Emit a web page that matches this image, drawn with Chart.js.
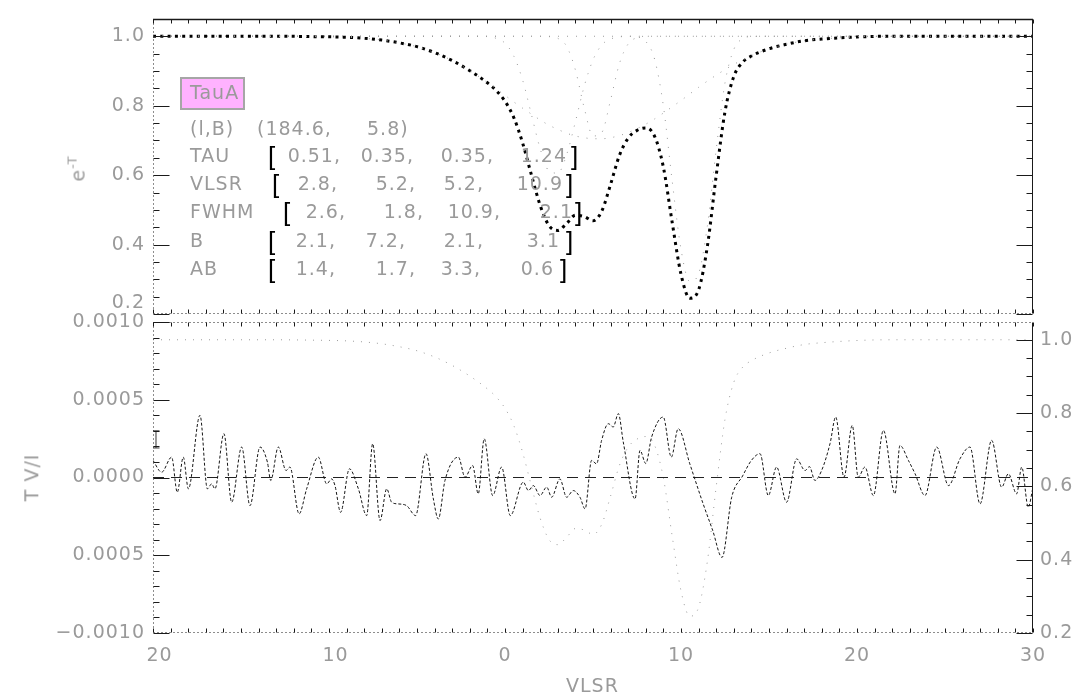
<!DOCTYPE html>
<html>
<head>
<meta charset="utf-8">
<script src="https://cdn.jsdelivr.net/npm/chart.js@4.4.1/dist/chart.umd.min.js"></script>
<style>
  body { margin: 0; background: #fff; }
  #wrap { position: relative; width: 1075px; height: 695px; overflow: hidden; background: #fff;
          font-family: "DejaVu Sans", sans-serif; color: #9a9a9a; }
  canvas { position: absolute; left: 0; }
  #topChart { top: 0; }
  #botChart { top: 300px; }
  .t { position: absolute; font-size: 19px; line-height: 19px; letter-spacing: 1px; white-space: pre; }
  .br { position: absolute; font-family: "Liberation Sans", sans-serif; font-size: 26px; line-height: 26px;
        color: #000; white-space: pre; }
  #srcBox { position: absolute; left: 180px; top: 77px; width: 61px; height: 29px;
            background: #ffb2ff; border: 2px solid #a6a6a6; }
  .rot { position: absolute; transform: rotate(-90deg); transform-origin: center center; white-space: pre;
         font-size: 19px; line-height: 19px; letter-spacing: 1px; }
  .rot sup { font-size: 13px; vertical-align: 8px; }
</style>
</head>
<body>
<div id="wrap">
  <canvas id="topChart" width="1075" height="345"></canvas>
  <canvas id="botChart" width="1075" height="395"></canvas>
  <div id="srcBox"></div>
  <div id="notes"></div>
  <div class="t" style="left:566px; top:676px;">VLSR</div>
  <div class="rot" style="left:62px; top:156px;">e<sup>-T</sup></div>
  <div class="rot" style="left:8px; top:468px;">T V/I</div>
</div>
<script>
// velocity grid (km/s) for the optical depth model curves
const velocity = [-20, -16, -13, -11, -9, -8, -7, -6, -5, -4, -3, -2, -1, -0.5, 0,
  0.5, 1, 1.5, 2, 2.5, 3, 3.5, 4, 4.5, 5, 5.5, 6, 6.5, 7, 7.5, 8, 8.5, 9, 9.5, 10,
  10.5, 11, 11.5, 12, 12.5, 13, 13.5, 14, 15, 16, 17, 18, 20, 22, 26, 30];

// total transmission exp(-tau)
const transTotal = [1.000, 1.000, 1.000, 0.999, 0.997, 0.994, 0.989, 0.981, 0.970, 0.953,
  0.930, 0.901, 0.866, 0.844, 0.813, 0.766, 0.693, 0.601, 0.513, 0.455,
  0.441, 0.461, 0.485, 0.481, 0.469, 0.497, 0.574, 0.657, 0.707, 0.729,
  0.736, 0.712, 0.623, 0.464, 0.315, 0.246, 0.270, 0.396, 0.599, 0.783,
  0.884, 0.925, 0.943, 0.964, 0.977, 0.987, 0.992, 0.998, 1.000, 1.000, 1.000];

// single components
const transComp1 = [1, 1, 1, 1, 1, 1, 1, 1, 1, 1,
  1, 1, 0.999, 0.994, 0.980, 0.943, 0.874, 0.775, 0.676, 0.612,
  0.606, 0.659, 0.754, 0.856, 0.932, 0.975, 0.992, 0.998, 1, 1,
  1, 1, 1, 1, 1, 1, 1, 1, 1, 1, 1, 1, 1, 1, 1, 1, 1, 1, 1, 1, 1];
const transComp2 = [1, 1, 1, 1, 1, 1, 1, 1, 1, 1,
  1, 1, 1, 1, 1, 1, 1, 1, 1, 0.999,
  0.994, 0.971, 0.903, 0.794, 0.713, 0.723, 0.817, 0.921, 0.978, 0.996,
  1, 1, 1, 1, 1, 1, 1, 1, 1, 1, 1, 1, 1, 1, 1, 1, 1, 1, 1, 1, 1];
const transComp3 = [1.000, 1.000, 1.000, 0.999, 0.997, 0.994, 0.989, 0.981, 0.970, 0.953,
  0.930, 0.901, 0.867, 0.849, 0.830, 0.811, 0.793, 0.776, 0.759, 0.744,
  0.732, 0.721, 0.713, 0.708, 0.705, 0.705, 0.708, 0.714, 0.723, 0.734,
  0.747, 0.762, 0.779, 0.797, 0.815, 0.834, 0.853, 0.871, 0.888, 0.904,
  0.919, 0.932, 0.944, 0.964, 0.977, 0.987, 0.992, 0.998, 1.000, 1.000, 1.000];
const transComp4 = [1, 1, 1, 1, 1, 1, 1, 1, 1, 1,
  1, 1, 1, 1, 1, 1, 1, 1, 1, 1,
  1, 1, 1, 1, 1, 1, 1, 1, 1, 0.998,
  0.985, 0.934, 0.799, 0.583, 0.387, 0.294, 0.317, 0.455, 0.674, 0.866,
  0.962, 0.993, 0.999, 1, 1, 1, 1, 1, 1, 1, 1];

// Stokes V spectrum
const stokesVel = [-20.0, -19.51, -18.94, -18.62, -18.28, -17.99, -17.33, -16.91, -16.67, -16.48,
  -15.97, -15.53, -14.96, -14.49, -13.92, -13.50, -13.31, -12.88, -12.44, -12.22,
  -11.70, -11.27, -10.61, -10.13, -9.85, -9.66, -9.34, -8.84, -8.33, -7.86,
  -7.52, -7.10, -6.72, -6.44, -6.06, -5.59, -5.08, -4.49, -4.07, -3.79,
  -3.41, -2.65, -2.27, -1.84, -1.52, -1.18, -0.70, -0.19, 0.30, 1.04,
  1.33, 1.61, 1.99, 2.37, 2.65, 3.12, 3.50, 3.88, 4.26, 4.55,
  4.92, 5.20, 5.49, 5.87, 6.15, 6.44, 6.72, 7.39, 7.67, 8.00,
  8.33, 8.99, 9.45, 9.84, 10.50, 11.26, 11.80, 12.33, 12.88, 13.50,
  14.00, 14.49, 14.96, 15.43, 16.00, 16.57, 17.05, 17.30, 17.61, 17.99,
  18.47, 18.79, 19.26, 19.73, 20.07, 20.45, 20.93, 21.50, 22.16, 22.44,
  22.92, 23.30, 23.86, 24.53, 25.20, 25.85, 26.42, 26.99, 27.65, 28.22,
  28.60, 29.07, 29.36, 29.73, 30.00];
const stokesV = [1.10e-4, 0.34e-4, 1.31e-4, -0.95e-4, 1.31e-4, -0.73e-4, 4.00e-4, -0.73e-4, -0.41e-4, -0.73e-4,
  2.82e-4, -1.59e-4, 1.96e-4, -1.81e-4, 1.96e-4, 0.99e-4, -0.19e-4, 1.96e-4, 0.45e-4, 0.67e-4,
  -2.34e-4, -0.73e-4, 1.31e-4, -0.41e-4, -0.09e-4, -0.52e-4, -2.24e-4, 0.56e-4, -0.73e-4, -2.45e-4,
  2.17e-4, -2.77e-4, -0.73e-4, -1.59e-4, -1.70e-4, -1.81e-4, -2.45e-4, 1.53e-4, -1.38e-4, -2.67e-4,
  -0.19e-4, 1.31e-4, 0.02e-4, 0.77e-4, -1.05e-4, 2.49e-4, -1.16e-4, 0.67e-4, -2.45e-4, -0.30e-4,
  -0.84e-4, -0.52e-4, -1.16e-4, -0.62e-4, -1.27e-4, -0.09e-4, -1.27e-4, -0.84e-4, -1.27e-4, -2.02e-4,
  1.10e-4, 0.88e-4, 2.39e-4, 3.46e-4, 3.25e-4, 4.11e-4, 2.28e-4, -1.38e-4, 1.74e-4, 0.90e-4,
  2.60e-4, 3.89e-4, 1.31e-4, 3.14e-4, 0.88e-4, -1.70e-4, -3.40e-4, -5.14e-4, -1.27e-4, 0.10e-4,
  1.10e-4, 1.53e-4, -1.16e-4, 0.67e-4, -1.59e-4, 1.20e-4, 0.45e-4, 0.70e-4, -0.19e-4, 0.45e-4,
  2.19e-4, 3.89e-4, 0.02e-4, 3.35e-4, 0.02e-4, 0.67e-4, -1.16e-4, 3.03e-4, -1.05e-4, 2.06e-4,
  1.10e-4, 0.24e-4, -1.16e-4, 1.96e-4, -0.52e-4, 1.20e-4, 1.96e-4, -1.70e-4, 2.39e-4, -0.62e-4,
  0.24e-4, -1.05e-4, 0.67e-4, -1.91e-4, -0.62e-4];

// zero level and the noise bar in the corner
const zeroVel = [-20, 30];
const zeroV = [0, 0];
const noiseVel = [-19.83, -19.83];
const noiseV = [0.00019, 0.00030];

// axes
const xTickVals = [-20, -10, 0, 10, 20, 30];
const xTickLabels = ['20', '10', '0', '10', '20', '30'];
const topTickVals = [0.2, 0.4, 0.6, 0.8, 1.0];
const topTickLabels = ['0.2', '0.4', '0.6', '0.8', '1.0'];
const vTickVals = [-0.0010, -0.0005, 0.0, 0.0005, 0.0010];
const vTickLabels = ['\u22120.0010', '0.0005', '0.0000', '0.0005', '0.0010'];
const rightTickVals = [0.2, 0.4, 0.6, 0.8, 1.0];
const rightTickLabels = ['0.2', '0.4', '0.6', '0.8', '1.0'];

// Gaussian fit results printed in the corner
const sourceName = 'TauA';
const sourceCoords = ['(184.6,', '5.8)'];
const fitNames = ['TAU', 'VLSR', 'FWHM', 'B', 'AB'];
const fitTau = [0.51, 0.35, 0.35, 1.24];
const fitVlsr = [2.8, 5.2, 5.2, 10.9];
const fitFwhm = [2.6, 1.8, 10.9, 2.1];
const fitB = [2.1, 7.2, 2.1, 3.1];
const fitDB = [1.4, 1.7, 3.3, 0.6];

const pts = (xs, ys) => xs.map((x, i) => ({ x: x, y: ys[i] }));
const tickFont = { family: 'DejaVu Sans', size: 19 };
const textGray = '#9a9a9a';

// IDL style frame: dotted left/bottom axes, ticks pointing inward
const idlAxes = {
  id: 'idlAxes',
  beforeDraw(chart) { chart.ctx.letterSpacing = '1px'; },
  afterDatasetsDraw(chart, args, o) {
    const ctx = chart.ctx, a = chart.chartArea;
    const xs = chart.scales.x, yl = chart.scales.y, yr = chart.scales[o.rightId];
    const L = Math.round(a.left) + 0.5, R = Math.round(a.right) - 0.5;
    const T = Math.round(a.top) + 0.5, B = Math.round(a.bottom) - 0.5;
    const seg = (x1, y1, x2, y2) => { ctx.beginPath(); ctx.moveTo(x1, y1); ctx.lineTo(x2, y2); ctx.stroke(); };
    ctx.save();
    ctx.strokeStyle = '#1a1a1a';
    ctx.lineWidth = 1;
    ctx.setLineDash([1, 3]);
    seg(L, T, L, B);
    seg(L, B, R, B);
    if (!o.solidTop) seg(L, T, R, T);
    ctx.setLineDash([]);
    if (o.solidTop) { ctx.lineWidth = 1.6; seg(L - 0.5, T, R + 0.5, T); ctx.lineWidth = 1; }
    seg(R, T, R, B);
    for (let k = Math.ceil(xs.min); k <= xs.max; k++) {
      const px = Math.round(xs.getPixelForValue(k)) + 0.5;
      seg(px, B, px, B - 4);
      seg(px, T, px, T + 4);
    }
    const yTicks = (scale, step, majors, x, dir) => {
      const n0 = Math.ceil(scale.min / step - 1e-6), n1 = Math.floor(scale.max / step + 1e-6);
      for (let k = n0; k <= n1; k++) {
        const v = k * step;
        const major = majors.some(m => Math.abs(m - v) < step / 10);
        const py = Math.round(scale.getPixelForValue(v)) + 0.5;
        seg(x, py, x + dir * (major ? 16 : 6), py);
      }
    };
    yTicks(yl, o.leftStep, o.leftMajors, L, 1);
    yTicks(yr, o.rightStep, o.rightMajors, R, -1);
    ctx.restore();
  }
};

function fixedTicks(vals) {
  return scale => { scale.ticks = vals.map(v => ({ value: v })); };
}

const thinDots = { borderColor: '#9a9a9a', borderWidth: 1, borderDash: [1, 8], pointRadius: 0,
                   cubicInterpolationMode: 'monotone', fill: false };

new Chart(document.getElementById('topChart'), {
  type: 'line',
  data: {
    datasets: [
      Object.assign({ data: pts(velocity, transComp1) }, thinDots),
      Object.assign({ data: pts(velocity, transComp2) }, thinDots),
      Object.assign({ data: pts(velocity, transComp3) }, thinDots),
      Object.assign({ data: pts(velocity, transComp4) }, thinDots),
      { data: pts(velocity, transTotal), borderColor: '#000', borderWidth: 3, borderDash: [3, 4.3],
        pointRadius: 0, cubicInterpolationMode: 'monotone', fill: false }
    ]
  },
  options: {
    responsive: false, animation: false, devicePixelRatio: 1,
    layout: { padding: { top: 7, bottom: 23, left: 0, right: 42 } },
    plugins: { legend: { display: false }, tooltip: { enabled: false },
      idlAxes: { rightId: 'y', solidTop: true, leftStep: 0.05, leftMajors: topTickVals,
                 rightStep: 0.05, rightMajors: topTickVals } },
    scales: {
      x: { type: 'linear', min: -20, max: 30, display: false },
      y: { min: 0.2, max: 1.0485,
        afterFit: s => { s.width = 153; },
        afterBuildTicks: fixedTicks(topTickVals),
        grid: { display: false, drawTicks: false }, border: { display: false },
        // the lowest label sits a little above its tick, clear of the panel below
        ticks: { padding: 8, color: textGray, font: tickFont,
                 callback: (v, i) => (i === 0 ? [topTickLabels[i], ''] : topTickLabels[i]) } }
    }
  },
  plugins: [idlAxes]
});

new Chart(document.getElementById('botChart'), {
  type: 'line',
  data: {
    datasets: [
      { data: pts(stokesVel, stokesV), yAxisID: 'y', borderColor: '#151515', borderWidth: 1,
        borderDash: [3, 2], pointRadius: 0, cubicInterpolationMode: 'monotone', fill: false },
      { data: pts(zeroVel, zeroV), yAxisID: 'y', borderColor: '#222', borderWidth: 1,
        borderDash: [11, 7], pointRadius: 0, fill: false },
      { data: pts(noiseVel, noiseV), yAxisID: 'y', borderColor: '#333', borderWidth: 1,
        pointStyle: 'line', pointRadius: 3.5, pointBorderWidth: 1, fill: false },
      Object.assign({ data: pts(velocity, transTotal), yAxisID: 'y2' }, thinDots, { borderDash: [1, 7] })
    ]
  },
  options: {
    responsive: false, animation: false, devicePixelRatio: 1,
    layout: { padding: { top: 22, bottom: 0, left: 0, right: 0 } },
    plugins: { legend: { display: false }, tooltip: { enabled: false },
      idlAxes: { rightId: 'y2', solidTop: false, leftStep: 0.0001, leftMajors: vTickVals,
                 rightStep: 0.05, rightMajors: rightTickVals } },
    scales: {
      x: { type: 'linear', min: -20, max: 30,
        afterFit: s => { s.height = 62; },
        afterBuildTicks: fixedTicks(xTickVals),
        grid: { display: false, drawTicks: false }, border: { display: false },
        ticks: { padding: 12, maxRotation: 0, autoSkip: false, color: textGray, font: tickFont,
                 callback: (v, i) => (xTickVals[i] < 0 ? '\u2007' : '') + xTickLabels[i] } },
      y: { position: 'left', min: -0.0010, max: 0.0010,
        afterFit: s => { s.width = 153; },
        afterBuildTicks: fixedTicks(vTickVals),
        grid: { display: false, drawTicks: false }, border: { display: false },
        ticks: { padding: 8, color: textGray, font: tickFont, callback: (v, i) => vTickLabels[i] } },
      y2: { position: 'right', min: 0.2, max: 1.0485,
        afterFit: s => { s.width = 42; },
        afterBuildTicks: fixedTicks(rightTickVals),
        grid: { display: false, drawTicks: false }, border: { display: false },
        ticks: { padding: 7, color: textGray, font: tickFont, callback: (v, i) => rightTickLabels[i] } }
    }
  },
  plugins: [idlAxes]
});

// fit summary block
const notes = document.getElementById('notes');
function put(cls, text, left, top, right) {
  const d = document.createElement('div');
  d.className = cls;
  d.textContent = text;
  if (right !== undefined) d.style.right = (1075 - right) + 'px'; else d.style.left = left + 'px';
  d.style.top = top + 'px';
  notes.appendChild(d);
}
put('t', sourceName, 190, 83);
put('t', '(l,B)', 190, 119);
put('t', sourceCoords[0], 257, 119);
put('t', sourceCoords[1], 367, 119);

const fitRows = [fitTau, fitVlsr, fitFwhm, fitB, fitDB];
const rowMid = [155, 183, 211, 240, 268];
const leftBr = [268, 272, 283, 268, 268];
const rightBr = [571, 566, 575, 566, 560];
const colRight = [[341, 414, 494, 567], [338, 416, 484, 563], [346, 424, 501, 573],
                  [336, 406, 484, 560], [336, 416, 481, 554]];
fitRows.forEach((vals, r) => {
  const top = rowMid[r] - 9;
  put('t', fitNames[r], 190, top);
  put('br', '[', leftBr[r], top - 3);
  vals.forEach((v, c) => {
    const txt = (r === 0 ? v.toFixed(2) : v.toFixed(1)) + (c < 3 ? ',' : '');
    put('t', txt, 0, top, colRight[r][c]);
  });
  put('br', ']', rightBr[r], top - 3);
});
</script>
</body>
</html>
